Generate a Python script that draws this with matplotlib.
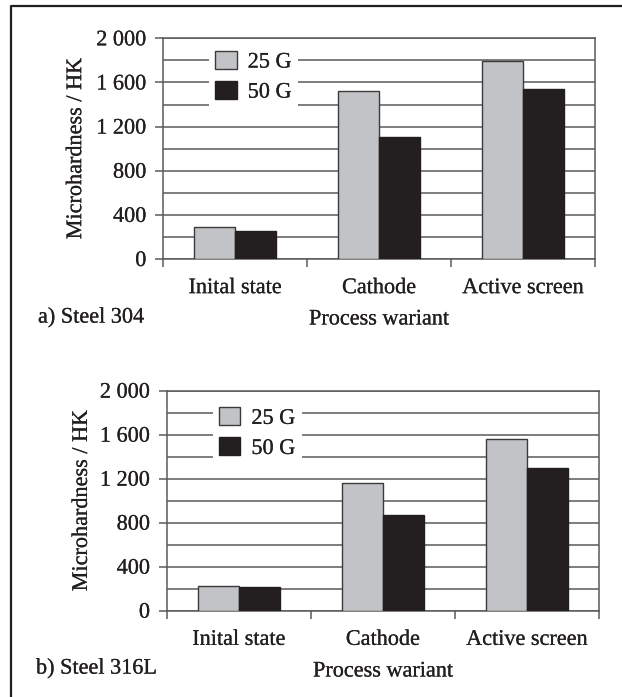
import matplotlib
matplotlib.use('Agg')
import matplotlib.pyplot as plt
import matplotlib.patheffects as pe
from matplotlib.lines import Line2D
from matplotlib.ticker import FuncFormatter, MultipleLocator

plt.rcParams['font.family'] = ['Liberation Serif', 'DejaVu Serif']
plt.rcParams['font.size'] = 16

# Data
categories = ['Inital state', 'Cathode', 'Active screen']
series = ['25 G', '50 G']
steel304_25g = [290, 1525, 1795]
steel304_50g = [258, 1105, 1540]
steel316l_25g = [225, 1160, 1565]
steel316l_50g = [215, 870, 1300]
panel_titles = ['a) Steel 304', 'b) Steel 316L']

ink = '#231f20'
light = '#c2c3c6'
grid = '#5a5a5a'
bar_w = 0.285
heavy = [pe.withStroke(linewidth=0.15, foreground=ink)]


def space_thousands(v, pos):
    return f'{int(v):,}'.replace(',', ' ')


def draw_panel(ax, vals25, vals50, label_x, legend_y):
    x = list(range(len(categories)))
    ax.bar([i - bar_w / 2 for i in x], vals25, width=bar_w, color=light,
           edgecolor='#3a3a3a', linewidth=1.0, label=series[0], zorder=3)
    ax.bar([i + bar_w / 2 for i in x], vals50, width=bar_w, color=ink,
           edgecolor=ink, linewidth=1.0, label=series[1], zorder=3)

    ax.set_xlim(-0.5, len(categories) - 0.5)
    ax.set_ylim(0, 2000)
    ax.yaxis.set_major_locator(MultipleLocator(400))
    ax.yaxis.set_minor_locator(MultipleLocator(200))
    ax.yaxis.set_major_formatter(FuncFormatter(space_thousands))
    ax.grid(axis='y', which='both', color=grid, linewidth=1.1, zorder=1)
    ax.set_axisbelow(True)

    ax.set_xticks(x)
    ax.set_xticklabels(categories)
    ax.set_xticks([i - 0.5 for i in range(len(categories) + 1)], minor=True)
    ax.tick_params(axis='x', which='major', length=0, pad=14.5, colors=ink)
    ax.tick_params(axis='x', which='minor', length=6, width=1.1, color=grid,
                   direction='out')
    ax.tick_params(axis='y', which='major', length=6, width=1.1, color=grid,
                   pad=6, labelcolor=ink)
    ax.tick_params(axis='y', which='minor', length=0)

    for side in ['left', 'right', 'top', 'bottom']:
        ax.spines[side].set_color(grid)
        ax.spines[side].set_linewidth(1.1)

    ax.set_ylabel('Microhardness / HK', color=ink)
    ax.yaxis.set_label_coords(label_x, 0.5)

    leg = ax.legend(loc='upper left', bbox_to_anchor=(0.106, legend_y),
                    borderaxespad=0, borderpad=0.3, frameon=True,
                    fancybox=False, handlelength=0.95, handleheight=0.86,
                    handletextpad=0.5, labelspacing=0.38)
    leg.get_frame().set_facecolor('white')
    leg.get_frame().set_edgecolor('none')
    leg.get_frame().set_alpha(1)

    texts = ax.get_xticklabels() + ax.get_yticklabels() + leg.get_texts()
    for t in texts + [ax.yaxis.label]:
        t.set_color(ink)
        t.set_path_effects(heavy)


fig = plt.figure(figsize=(6.22, 6.97), dpi=100)
ax1 = fig.add_axes([0.2621, 0.6284, 0.6945, 0.3166])
ax2 = fig.add_axes([0.2680, 0.1238, 0.6950, 0.3157])

draw_panel(ax1, steel304_25g, steel304_50g, -0.178, 0.973)
draw_panel(ax2, steel316l_25g, steel316l_50g, -0.173, 0.955)

# panel captions and x-axis titles
kw = dict(va='center', color=ink, path_effects=heavy)
fig.text(38 / 622, 1 - 318 / 697, panel_titles[0], ha='left', **kw)
fig.text(36 / 622, 1 - 669 / 697, panel_titles[1], ha='left', **kw)
fig.text(379 / 622, 1 - 320 / 697, 'Process wariant', ha='center', **kw)
fig.text(383 / 622, 1 - 672 / 697, 'Process wariant', ha='center', **kw)

# outer frame (top and left only)
fig.add_artist(Line2D([11 / 622, 11 / 622, 1.0], [0.0, 1 - 6 / 697, 1 - 6 / 697],
                      transform=fig.transFigure, color=ink, linewidth=1.6))

fig.savefig('out.png', dpi=100)
